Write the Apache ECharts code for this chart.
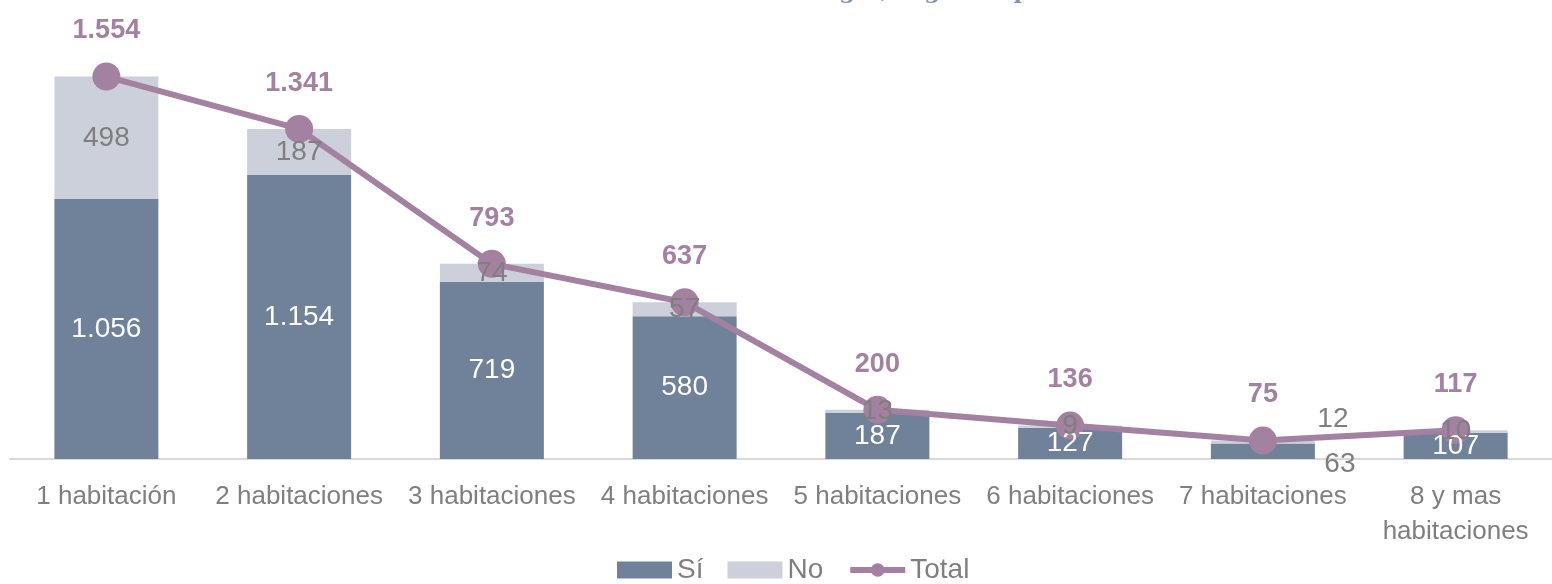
<!DOCTYPE html>
<html>
<head>
<meta charset="utf-8">
<script src="https://cdn.jsdelivr.net/npm/echarts@6/dist/echarts.min.js"></script>
<style>
  html, body { margin: 0; padding: 0; background: #fff; }
  #chart { width: 1552px; height: 584px; }
</style>
</head>
<body>
<div id="chart"></div>
<script>
// datos
const categorias = ['1 habitación', '2 habitaciones', '3 habitaciones', '4 habitaciones',
  '5 habitaciones', '6 habitaciones', '7 habitaciones', '8 y mas\nhabitaciones'];
const si = [1056, 1154, 719, 580, 187, 127, 63, 107];
const no = [498, 187, 74, 57, 13, 9, 12, 10];
const total = [1554, 1341, 793, 637, 200, 136, 75, 117];

const fuente = "'Liberation Sans', Arial, sans-serif";
const colorSi = '#6F8299';
const colorNo = '#CBD0DA';
const colorTotal = '#A381A0';

const chart = echarts.init(document.getElementById('chart'));

// etiquetas de 7 habitaciones van fuera de la barra
const etiqNo = no.map((v, i) => {
  if (i === 6) {
    return { value: v, label: { position: 'top', offset: [70, -2] } };
  }
  return v;
});
const etiqSi = si.map((v, i) => {
  if (i === 6) {
    return { value: v, label: { position: 'bottom', offset: [77, -14], color: '#7F7F7F' } };
  }
  return v;
});

const fmt = p => p.value.toLocaleString('es-ES', { useGrouping: 'always' });

const option = {
  animation: false,
  textStyle: { fontFamily: fuente },
  title: {
    text: 'Número de habitaciones del hogar, según la pobreza',
    left: 'center',
    top: -24,
    textStyle: {
      fontFamily: "'DejaVu Serif', serif",
      fontSize: 23,
      fontWeight: 'bold',
      color: '#8497B0'
    }
  },
  legend: {
    bottom: -5,
    left: 612,
    itemWidth: 55,
    itemHeight: 17,
    itemGap: 24,
    textStyle: { fontFamily: fuente, fontSize: 28, color: '#7F7F7F' },
    data: [
      { name: 'Sí', icon: 'rect' },
      { name: 'No', icon: 'rect' },
      { name: 'Total', lineStyle: { width: 6 } }
    ]
  },
  grid: { left: 10, right: -10, top: 16, bottom: 125 },
  xAxis: {
    type: 'category',
    data: categorias,
    axisLine: { lineStyle: { color: '#D9D9D9', width: 2 } },
    axisTick: { show: false },
    axisLabel: {
      interval: 0,
      fontFamily: fuente,
      fontSize: 26,
      color: '#7F7F7F',
      lineHeight: 35,
      margin: 20
    }
  },
  yAxis: {
    type: 'value',
    min: 0,
    max: 1800,
    show: false,
    splitLine: { show: false }
  },
  series: [
    {
      name: 'Sí',
      type: 'bar',
      stack: 'hogar',
      barWidth: 104,
      barGap: '-100%',
      itemStyle: { color: colorSi },
      data: si
    },
    {
      name: 'No',
      type: 'bar',
      stack: 'hogar',
      barWidth: 104,
      itemStyle: { color: colorNo },
      data: no
    },
    {
      name: 'Total',
      type: 'line',
      data: total,
      symbol: 'circle',
      symbolSize: 28,
      itemStyle: { color: colorTotal },
      lineStyle: { color: colorTotal, width: 6 },
      z: 3,
      label: {
        show: true,
        position: 'top',
        distance: 18,
        fontFamily: fuente,
        fontWeight: 'bold',
        fontSize: 27,
        color: colorTotal,
        formatter: fmt
      }
    },
    // barras transparentes solo para dibujar las etiquetas encima de la línea
    {
      name: 'etiq-si',
      type: 'bar',
      stack: 'etiquetas',
      barWidth: 104,
      barGap: '-100%',
      z: 4,
      silent: true,
      itemStyle: { color: 'rgba(0,0,0,0)' },
      label: {
        show: true,
        position: 'inside',
        fontFamily: fuente,
        fontSize: 28,
        color: '#fff',
        formatter: fmt
      },
      data: etiqSi
    },
    {
      name: 'etiq-no',
      type: 'bar',
      stack: 'etiquetas',
      barWidth: 104,
      z: 4,
      silent: true,
      itemStyle: { color: 'rgba(0,0,0,0)' },
      label: {
        show: true,
        position: 'inside',
        fontFamily: fuente,
        fontSize: 28,
        color: '#7F7F7F'
      },
      data: etiqNo
    }
  ]
};

chart.setOption(option);
</script>
</body>
</html>
